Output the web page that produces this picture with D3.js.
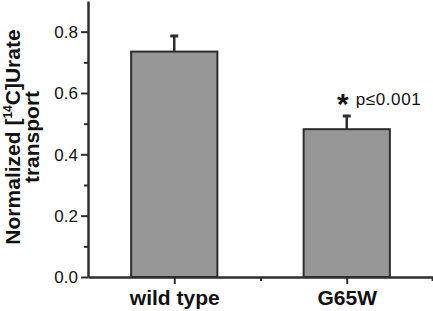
<!DOCTYPE html>
<html><head><meta charset="utf-8">
<script src="https://cdn.jsdelivr.net/npm/d3@7"></script>
<style>body{margin:0;background:#fff}svg{display:block}text{font-family:"Liberation Sans",Arial,sans-serif;fill:#111}</style>
</head><body><svg id="c" width="433" height="311"></svg>
<script>
const categories = ["wild type", "G65W"];
const values = [0.735, 0.482];
const errors = [0.051, 0.043];
const yTicks = [0.0, 0.2, 0.4, 0.6, 0.8];
const yMinorTicks = [0.1, 0.3, 0.5, 0.7];
const annotation = "p\u22640.001";

const svg = d3.select("#c");
const x = d3.scaleLinear().domain([0, 4]).range([88, 433]);
const y = d3.scaleLinear().domain([0, 0.9]).range([277, 1]);
const pos = categories.map((c, i) => 1 + 2 * i);

// bars
svg.selectAll("rect.bar").data(values).join("rect")
  .attr("x", (d, i) => x(pos[i] - 0.5)).attr("width", x(1) - x(0))
  .attr("y", d => y(d)).attr("height", d => y(0) - y(d))
  .attr("fill", "#979797").attr("stroke", "#2e2e2e").attr("stroke-width", 2);

// error bars
svg.selectAll("line.err").data(values).join("line")
  .attr("x1", (d, i) => x(pos[i])).attr("x2", (d, i) => x(pos[i]))
  .attr("y1", d => y(d)).attr("y2", (d, i) => y(d + errors[i]))
  .attr("stroke", "#2e2e2e").attr("stroke-width", 2.5);
svg.selectAll("line.cap").data(values).join("line")
  .attr("x1", (d, i) => x(pos[i]) - 4).attr("x2", (d, i) => x(pos[i]) + 4)
  .attr("y1", (d, i) => y(d + errors[i])).attr("y2", (d, i) => y(d + errors[i]))
  .attr("stroke", "#2e2e2e").attr("stroke-width", 3);

// y axis
const yAxis = svg.append("g").attr("transform", `translate(${x(0)},0)`)
  .call(d3.axisLeft(y).tickValues(yTicks).tickFormat(d3.format(".1f")).tickSize(7).tickSizeOuter(0));
svg.append("g").attr("transform", `translate(${x(0)},0)`)
  .call(d3.axisLeft(y).tickValues(yMinorTicks).tickFormat("").tickSize(4).tickSizeOuter(0))
  .select(".domain").remove();
// x axis
const xAxis = svg.append("g").attr("transform", `translate(0,${y(0)})`)
  .call(d3.axisBottom(x).tickValues(pos).tickFormat((d, i) => categories[i]).tickSize(7).tickSizeOuter(0));
svg.append("g").attr("transform", `translate(0,${y(0)})`)
  .call(d3.axisBottom(x).tickValues([2, 3.99]).tickFormat("").tickSize(4).tickSizeOuter(0))
  .select(".domain").remove();

svg.selectAll(".domain").attr("stroke", "#2e2e2e").attr("stroke-width", 2.5);
svg.selectAll(".tick line").attr("stroke", "#2e2e2e").attr("stroke-width", 2);
yAxis.selectAll("text").attr("font-size", 17).attr("x", -10).attr("dy", "0.35em")
  .style("font-family", "Liberation Sans, Arial, sans-serif").attr("fill", "#111");
xAxis.selectAll("text").attr("font-size", 21).attr("font-weight", "bold").attr("y", 28).attr("dy", 0)
  .style("font-family", "Liberation Sans, Arial, sans-serif").attr("fill", "#111");

// annotation
const ax = x(pos[1]) - 4, ay = y(values[1] + errors[1]);
svg.append("text").attr("x", ax).attr("y", ay - 2).attr("text-anchor", "middle")
  .attr("font-size", 30).attr("font-weight", "bold").text("*");
svg.append("text").attr("x", ax + 13).attr("y", ay - 11).attr("font-size", 17)
  .attr("letter-spacing", 0.6).text(annotation);

// y title
const t = svg.append("text").attr("transform", `translate(20,137) rotate(-90)`)
  .attr("text-anchor", "middle").attr("font-size", 21).attr("font-weight", "bold");
t.append("tspan").text("Normalized [");
t.append("tspan").attr("font-size", 12).attr("dy", -8).text("14");
t.append("tspan").attr("dy", 8).text("C]Urate");
svg.append("text").attr("transform", `translate(39,137) rotate(-90)`)
  .attr("text-anchor", "middle").attr("font-size", 21).attr("font-weight", "bold").text("transport");
</script></body></html>
